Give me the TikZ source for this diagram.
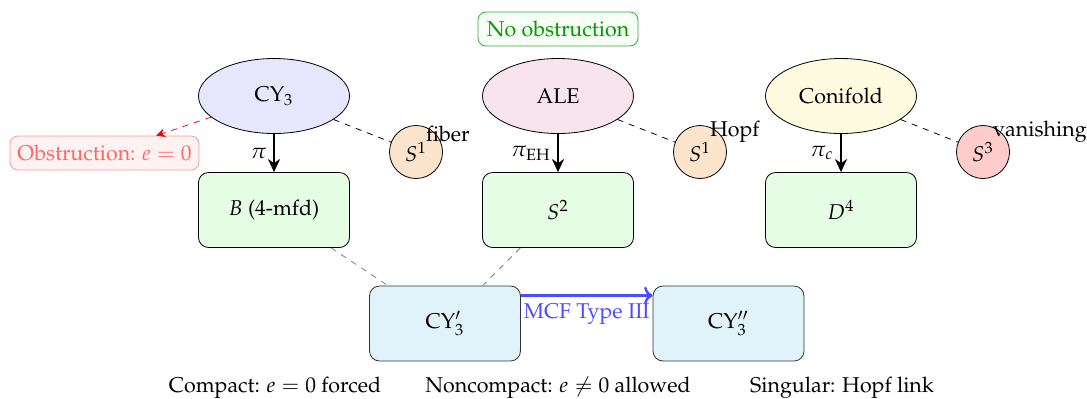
\documentclass[tikz,border=0pt]{standalone}
\usepackage[T1]{fontenc}
\usepackage{mathpazo}
\usetikzlibrary{arrows.meta,shapes.geometric}

\definecolor{cyfill}{RGB}{230,230,252}
\definecolor{alefill}{RGB}{248,228,236}
\definecolor{conifill}{RGB}{255,251,224}
\definecolor{basefill}{RGB}{229,253,229}
\definecolor{s1fill}{RGB}{252,228,204}
\definecolor{s3fill}{RGB}{255,204,204}
\definecolor{flowfill}{RGB}{224,242,250}
\definecolor{okgreen}{RGB}{0,153,0}
\definecolor{flowblue}{RGB}{77,77,255}

\begin{document}
\begin{tikzpicture}[x=0.5pt,y=-0.5pt,
  every node/.append style={font=\fontsize{10.7}{13}\selectfont},
  total/.style={ellipse,draw,minimum width=75.5pt,minimum height=37.5pt,inner sep=0pt},
  basebox/.style={draw,rounded corners=5pt,fill=basefill,minimum width=75.5pt,minimum height=37.5pt},
  flowbox/.style={draw=black!80,rounded corners=5pt,fill=flowfill,minimum width=75.5pt,minimum height=37.5pt},
  fibre/.style={circle,draw,minimum size=26.5pt,inner sep=0pt},
  proj/.style={thick,-{Stealth[length=6.5pt,width=6pt,inset=2pt]}},
  link/.style={dashed},
  descend/.style={dashed,gray},
  fiblabel/.style={anchor=south west},
  caption/.style={anchor=base}]

\path[use as bounding box] (0,0) rectangle (1087,398);

% status tag
\node[draw=okgreen!80,fill=green!3,text=okgreen,rounded corners=4pt,
      minimum width=80pt,minimum height=17pt,inner sep=2pt] (none) at (558,29) {No obstruction};

% total spaces
\node[total,fill=cyfill]   (cy3)  at (274,96)  {CY$_3$};
\node[total,fill=alefill]  (ale)  at (558,96)  {ALE};
\node[total,fill=conifill] (coni) at (841,96)  {Conifold};

% bases
\node[basebox] (b)  at (274,210) {$B$ (4-mfd)};
\node[basebox] (s2) at (558,210) {$S^2$};
\node[basebox] (d4) at (841,210) {$D^4$};

% fibres
\node[fibre,fill=s1fill] (f1) at (416,152) {$S^1$};
\node[fibre,fill=s1fill] (f2) at (700,152) {$S^1$};
\node[fibre,fill=s3fill] (f3) at (983,152) {$S^3$};

\node[fiblabel] (l1) at ([shift={(3,-2.5)}]f1.center) {fiber};
\node[fiblabel] (l2) at ([shift={(3,-2.5)}]f2.center) {Hopf};
\node[fiblabel] (l3) at ([shift={(3,-2.5)}]f3.center) {vanishing};

% obstruction tag
\node[draw=red!40,fill=red!5,text=red!60,rounded corners=4pt,
      minimum width=94.5pt,minimum height=17pt,inner sep=2pt] (obs) at (104.5,153) {Obstruction: $e=0$};

% flow boxes
\node[flowbox] (cyp)  at (445,323.5) {CY$_3'$};
\node[flowbox] (cypp) at (728.5,323.5) {CY$_3''$};

% projections
\draw[proj] (cy3)  -- node[left] {$\pi$} (b);
\draw[proj] (ale)  -- node[left] {$\pi_{\mathrm{EH}}$} (s2);
\draw[proj] (coni) -- node[left] {$\pi_c$} (d4);

% fibre links
\draw[link] (cy3)  -- (f1);
\draw[link] (ale)  -- (f2);
\draw[link] (coni) -- (f3);

% obstruction
\draw[dashed,red,-{Stealth[length=4.5pt,width=4.5pt]}] (cy3) -- (obs);

% degenerations
\draw[descend] (b)  -- (cyp);
\draw[descend] (s2) -- (cyp);

% flow
\draw[very thick,flowblue,->] ([yshift=14pt]cyp.east) -- node[below,text=flowblue] {MCF Type III} ([yshift=14pt]cypp.west);

% captions
\node[caption] (c1) at (275,392.5) {Compact: $e=0$ forced};
\node[caption] (c2) at (558,392.5) {Noncompact: $e\neq0$ allowed};
\node[caption] (c3) at (842,392.5) {Singular: Hopf link};
\end{tikzpicture}
\end{document}
